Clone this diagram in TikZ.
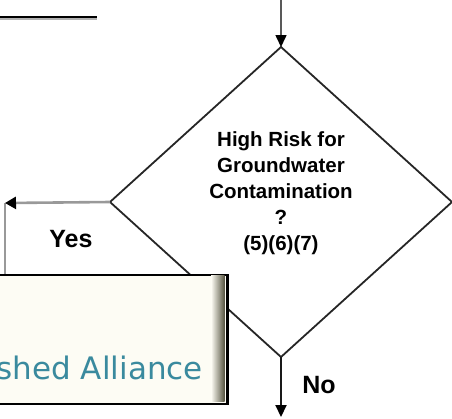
\documentclass[tikz,border=0pt]{standalone}
\usepackage{fontspec}
\setmainfont{Liberation Sans}
\newfontfamily\bannerfont{DejaVu Sans}
\usetikzlibrary{shapes.geometric,arrows.meta,positioning,calc}

\definecolor{alliance}{RGB}{58,138,158}
\definecolor{cream}{RGB}{253,252,244}
\definecolor{olive}{RGB}{88,86,66}

\begin{document}
\begin{tikzpicture}[
    x=1pt, y=-1pt,
    decision/.style={diamond, draw=black!85, line width=1.8pt, minimum width=342pt, minimum height=310pt, inner sep=0pt, outer sep=0pt},
    question/.style={align=center, font=\fontsize{20.5}{26}\selectfont\bfseries},
    answer/.style={font=\fontsize{25}{30}\selectfont\bfseries},
    flow/.style={line width=1.6pt, black!65, -{Triangle[length=12pt,width=11pt,fill=black,color=black]}},
    yesflow/.style={line width=2.6pt, black!40},
    banner/.style={draw=black, line width=2.6pt, fill=cream}
]
\useasboundingbox (0,0) rectangle (452,418);

% --- the decision ---
\node[decision] (Risk) at (281,202) {};
\node[question] (RiskText) at (281,193) {High Risk for\\Groundwater\\Contamination\\?\\(5)(6)(7)};

% incoming and outgoing flow
\coordinate (In) at (281,0);
\coordinate (Out) at (281,417);
\draw[flow] (In) -- (Risk.north);
\draw[flow, black!90, line width=2pt] (Risk.south) -- (Out);
\node[answer] (No) at (319,385) {No};

% Yes branch
\coordinate (YesCorner) at (5,203);
\coordinate (YesFoot) at (5,290);
\draw[yesflow] (YesCorner) -- (YesFoot);
\draw[yesflow, -{Triangle[length=11pt,width=12pt,fill=black,color=black]}] (Risk.west) -- (YesCorner);
\node[answer] (Yes) at (71,239) {Yes};

% rule at top left
\coordinate (RuleA) at (0,17);
\coordinate (RuleB) at (97,17);
\draw[black!30, line width=2pt] ($(RuleA)+(0,2)$) -- ($(RuleB)+(0,2)$);
\draw[black, line width=2.6pt] (RuleA) -- (RuleB);

% --- overlaid banner ---
\node[banner, minimum width=236pt, minimum height=129pt, anchor=north west, inner sep=0pt] (Banner) at (-10,273.5) {};
\shade[left color=cream, right color=olive] (211,275) rectangle (224.5,401.5);
\begin{scope}
    \clip (0,275) rectangle (224,401);
    \node[font=\bannerfont\fontsize{31}{34}\selectfont, text=alliance, anchor=base east, inner sep=0pt] (Alliance) at (203,379) {shed Alliance};
\end{scope}

\end{tikzpicture}
\end{document}
